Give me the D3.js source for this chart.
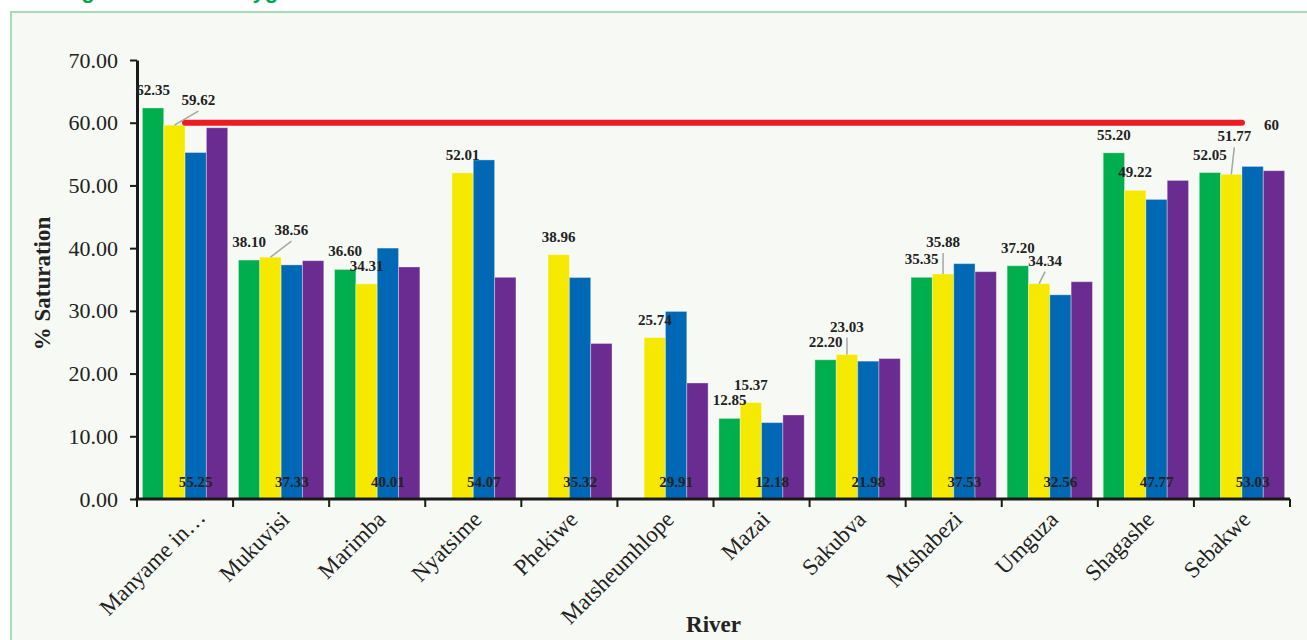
<!DOCTYPE html>
<html>
<head>
<meta charset="utf-8">
<script src="https://cdn.jsdelivr.net/npm/d3@7/dist/d3.min.js"></script>
<style>
  html, body { margin: 0; padding: 0; background: #ffffff; }
  svg { display: block; }
</style>
</head>
<body>
<svg id="chart" width="1307" height="640"></svg>
<script>
// River dissolved-oxygen saturation, four sampling rounds per river
const rivers = ["Manyame in\u2026", "Mukuvisi", "Marimba", "Nyatsime", "Phekiwe", "Matsheumhlope",
                "Mazai", "Sakubva", "Mtshabezi", "Umguza", "Shagashe", "Sebakwe"];
const seriesNames = ["Round 1", "Round 2", "Round 3", "Round 4"];
const round1 = [62.35, 38.10, 36.60, null, null, null, 12.85, 22.20, 35.35, 37.20, 55.20, 52.05];
const round2 = [59.62, 38.56, 34.31, 52.01, 38.96, 25.74, 15.37, 23.03, 35.88, 34.34, 49.22, 51.77];
const round3 = [55.25, 37.33, 40.01, 54.07, 35.32, 29.91, 12.18, 21.98, 37.53, 32.56, 47.77, 53.03];
const round4 = [59.2, 38.0, 37.0, 35.35, 24.8, 18.5, 13.4, 22.4, 36.25, 34.65, 50.8, 52.35];
const standardValue = 60;
const yTicks = [0, 10, 20, 30, 40, 50, 60, 70];

const seriesValues = [round1, round2, round3, round4];
const colors = ["#00ae4d", "#f5e900", "#0068b4", "#6a2c90"];

const svg = d3.select("#chart");

// panel behind the chart
svg.append("text")
  .attr("x", 21).attr("y", -2)
  .attr("font-family", "Liberation Sans, Arial, sans-serif")
  .attr("font-weight", "bold").attr("font-size", 22)
  .attr("fill", "#00a651")
  .text("Average Dissolved Oxygen");
svg.append("rect")
  .attr("x", 11).attr("y", 12).attr("width", 1320).attr("height", 660)
  .attr("fill", "#f7f9f4").attr("stroke", "#a5dcb6").attr("stroke-width", 2);

const plotLeft = 137, plotRight = 1290, plotTop = 60, plotBottom = 499;
const serif = "Liberation Serif, Times New Roman, serif";

const x0 = d3.scaleBand().domain(rivers).range([plotLeft, plotRight]).padding(0);
const bw = x0.bandwidth();
const x1 = d3.scaleBand().domain(seriesNames).range([bw * 0.056, bw * 0.944]).padding(0);
const y = d3.scaleLinear().domain([0, 70]).range([plotBottom, plotTop]);

// bars
const barLayer = svg.append("g");
seriesValues.forEach((vals, si) => {
  barLayer.selectAll(null)
    .data(vals.map((v, i) => ({ v, c: rivers[i] })).filter(d => d.v !== null))
    .enter().append("rect")
    .attr("x", d => x0(d.c) + x1(seriesNames[si]))
    .attr("y", d => y(d.v))
    .attr("width", x1.bandwidth())
    .attr("height", d => y(0) - y(d.v))
    .attr("fill", colors[si])
    .attr("stroke", "rgba(255,255,255,0.35)")
    .attr("stroke-width", 1);
});

// y axis
const yAxis = svg.append("g")
  .attr("transform", `translate(${plotLeft},0)`)
  .call(d3.axisLeft(y).tickValues(yTicks).tickFormat(d3.format(".2f"))
    .tickSize(7).tickSizeOuter(0).tickPadding(12));
yAxis.select(".domain").attr("stroke", "#1a1a1a").attr("stroke-width", 3);
yAxis.selectAll(".tick line").attr("stroke", "#1a1a1a").attr("stroke-width", 2);
yAxis.selectAll(".tick text").attr("font-family", serif).attr("font-size", 22).attr("fill", "#222");

// x axis: labels at category centres, ticks at category boundaries
const xAxis = svg.append("g")
  .attr("transform", `translate(0,${plotBottom})`)
  .call(d3.axisBottom(x0).tickSize(0).tickSizeOuter(0).tickPadding(0));
xAxis.select(".domain").attr("stroke", "#1a1a1a").attr("stroke-width", 3)
  .attr("d", `M${plotLeft - 1.5},0H${plotRight}`);
xAxis.selectAll(".tick text")
  .attr("font-family", serif).attr("font-size", 23).attr("fill", "#222")
  .attr("text-anchor", "end")
  .attr("dy", "0.35em")
  // the truncated first label sits a little further right
  .attr("transform", (d, i) => `translate(${i === 0 ? 16 : 4},${i === 0 ? 14 : 16}) rotate(-45)`);
const bounds = rivers.map(c => x0(c)).concat([plotRight]);
xAxis.selectAll(".bound").data(bounds).enter().append("line")
  .attr("x1", d => d).attr("x2", d => d).attr("y1", 0).attr("y2", 8)
  .attr("stroke", "#1a1a1a").attr("stroke-width", 2);

// axis titles
svg.append("text")
  .attr("transform", `translate(50,${(plotTop + plotBottom) / 2 + 4}) rotate(-90)`)
  .attr("text-anchor", "middle")
  .attr("font-family", serif).attr("font-weight", "bold").attr("font-size", 23)
  .attr("fill", "#222").text("% Saturation");
svg.append("text")
  .attr("x", (plotLeft + plotRight) / 2).attr("y", 632)
  .attr("text-anchor", "middle")
  .attr("font-family", serif).attr("font-weight", "bold").attr("font-size", 23)
  .attr("fill", "#222").text("River");

// standard line at 60 %
const first = x0(rivers[0]) + bw / 2, last = x0(rivers[rivers.length - 1]) + bw / 2;
svg.append("line")
  .attr("x1", first).attr("x2", last)
  .attr("y1", y(standardValue)).attr("y2", y(standardValue))
  .attr("stroke", "#ec1c24").attr("stroke-width", 6).attr("stroke-linecap", "round");
svg.append("text")
  .attr("x", last + 22).attr("y", y(standardValue) + 7)
  .attr("font-family", serif).attr("font-weight", "bold").attr("font-size", 15)
  .attr("fill", "#222").text(standardValue);

// value labels
const fmt = d3.format(".2f");
// nudged labels (series index, category index) -> [dx, dy] with a leader line back to the bar
const nudges = {
  "1-0": [24, -7], "1-1": [21, -9], "1-7": [0, -10], "1-8": [0, -14],
  "1-9": [6, -5], "1-11": [3, -20]
};
const labels = svg.append("g")
  .attr("font-family", serif).attr("font-weight", "bold").attr("font-size", 15)
  .attr("fill", "#222").attr("text-anchor", "middle");

[0, 1].forEach(si => {
  seriesValues[si].forEach((v, ci) => {
    if (v === null) return;
    const cx = x0(rivers[ci]) + x1(seriesNames[si]) + x1.bandwidth() / 2;
    const by = y(v);
    const n = nudges[`${si}-${ci}`] || [0, 0];
    const tx = cx + n[0], ty = by - 13 + n[1];
    if (nudges[`${si}-${ci}`]) {
      svg.append("line")
        .attr("x1", tx).attr("y1", ty + 6)
        .attr("x2", cx).attr("y2", by)
        .attr("stroke", "#a6a6a6").attr("stroke-width", 1.5);
    }
    labels.append("text").attr("x", tx).attr("y", ty).text(fmt(v));
  });
});
// third round labelled at the base of its bars
seriesValues[2].forEach((v, ci) => {
  if (v === null) return;
  const cx = x0(rivers[ci]) + x1(seriesNames[2]) + x1.bandwidth() / 2;
  labels.append("text").attr("x", cx).attr("y", y(0) - 12).text(fmt(v));
});
</script>
</body>
</html>
